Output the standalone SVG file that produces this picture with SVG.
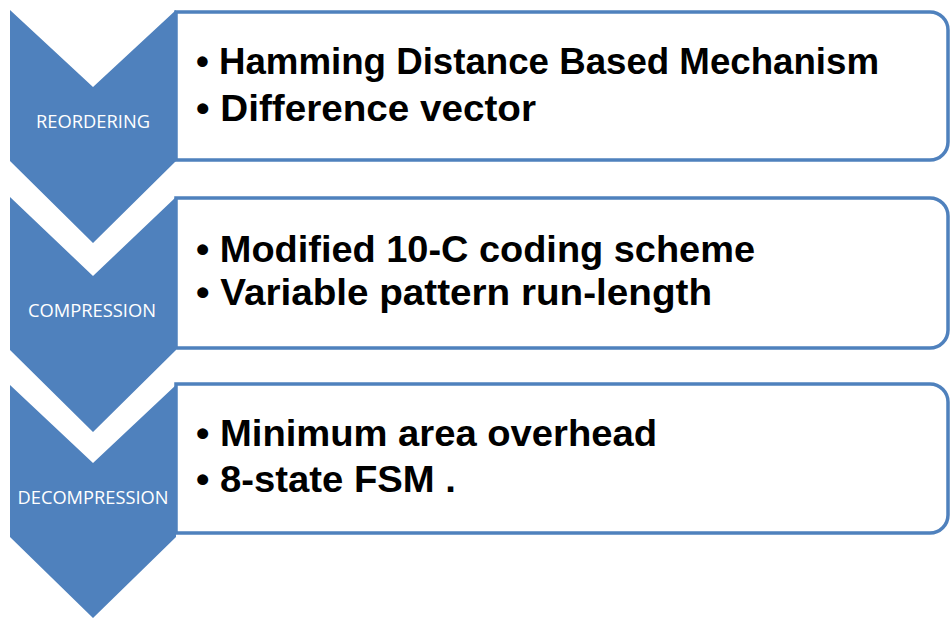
<svg xmlns="http://www.w3.org/2000/svg" width="950" height="619" viewBox="0 0 950 619">
  <style>
    .chev { fill: #4F81BD; }
    .box { fill: #FFFFFF; stroke: #4F81BD; stroke-width: 3.5; }
    .label { fill: #FFFFFF; font-family: "Open Sans", "Liberation Sans", sans-serif; font-size: 17.5px; text-anchor: middle; }
    .item { fill: #000000; font-family: "Liberation Sans", Arial, sans-serif; font-weight: bold; font-size: 36px; }
  </style>
  <rect width="950" height="619" fill="#FFFFFF"/>

  <!-- Stage 1 -->
  <g id="reordering">
    <path class="box" d="M176,12 H930 A18,18 0 0 1 948,30 V142 A18,18 0 0 1 930,160 H176 Z"/>
    <path class="chev" d="M10,10 L93,87 L176,10 L176,161 L93,243 L10,161 Z"/>
    <text class="label" x="93" y="128" textLength="114" lengthAdjust="spacingAndGlyphs">REORDERING</text>
    <text class="item" x="196" y="74" textLength="683" lengthAdjust="spacingAndGlyphs">• Hamming Distance Based Mechanism</text>
    <text class="item" x="196" y="121" textLength="340" lengthAdjust="spacingAndGlyphs">• Difference vector</text>
  </g>

  <!-- Stage 2 -->
  <g id="compression">
    <path class="box" d="M176,198 H930 A18,18 0 0 1 948,216 V330 A18,18 0 0 1 930,348 H176 Z"/>
    <path class="chev" d="M10,197 L93,276 L176,197 L176,350 L93,432 L10,350 Z"/>
    <text class="label" x="92" y="317" textLength="128" lengthAdjust="spacingAndGlyphs">COMPRESSION</text>
    <text class="item" x="196" y="262" textLength="559" lengthAdjust="spacingAndGlyphs">• Modified 10-C coding scheme</text>
    <text class="item" x="196" y="305" textLength="516" lengthAdjust="spacingAndGlyphs">• Variable pattern run-length</text>
  </g>

  <!-- Stage 3 -->
  <g id="decompression">
    <path class="box" d="M176,384 H930 A18,18 0 0 1 948,402 V515 A18,18 0 0 1 930,533 H176 Z"/>
    <path class="chev" d="M10,385 L93,463 L176,385 L176,537 L93,618 L10,537 Z"/>
    <text class="label" x="93" y="504" textLength="151" lengthAdjust="spacingAndGlyphs">DECOMPRESSION</text>
    <text class="item" x="196" y="446" textLength="461" lengthAdjust="spacingAndGlyphs">• Minimum area overhead</text>
    <text class="item" x="196" y="492" textLength="260" lengthAdjust="spacingAndGlyphs">• 8-state FSM .</text>
  </g>

  <g id="connectors"/>
</svg>
